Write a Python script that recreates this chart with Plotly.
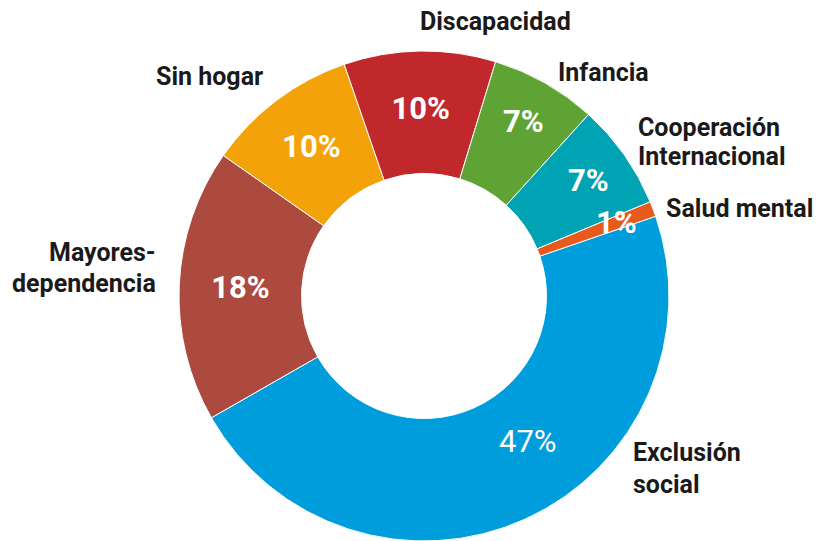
import math
import plotly.graph_objects as go

categories = ["Exclusión social", "Mayores-dependencia", "Sin hogar", "Discapacidad",
              "Infancia", "Cooperación Internacional", "Salud mental"]
values = [47, 18, 10, 10, 7, 7, 1]
colors = ["#009ddc", "#ad4a3f", "#f4a20a", "#c0282b", "#5fa334", "#00a3b3", "#e85a1b"]
bold = [False, True, True, True, True, True, True]

# outside label lines (text) and their pixel positions (screen coords)
label_lines = [["Exclusión", "social"], ["Mayores-", "dependencia"], ["Sin hogar"],
               ["Discapacidad"], ["Infancia"], ["Cooperación", "Internacional"],
               ["Salud mental"]]
label_x = [631, 158, 209, 495, 603, 636, 664]
label_y = [[452, 484], [253, 283], [76], [22], [73], [127, 156], [208]]
label_anchor = ["left", "right", "center", "center", "center", "left", "left"]

# slices whose percentage is drawn off the slice mid-point (angle shift deg, radius frac)
pct_shift = [-11, None, None, None, None, None, 0]
pct_radius = [0.73, None, None, None, None, None, 0.84]

W, H = 821, 541
OFF = 8  # page body margin offset
ROT = 71
total = sum(values)
texts = []
for v, b in zip(values, bold):
    s = f"{round(100 * v / total)}%"
    texts.append(f"<b>{s}</b>" if b else s)

pie_text = ["" if s is not None else t for s, t in zip(pct_shift, texts)]

dom_x = [171 / W, 661 / W]
dom_y = [1 - 533 / H, 1 - 43 / H]

fig = go.Figure(go.Pie(
    labels=categories, values=values, text=pie_text, textinfo="text",
    textposition="inside", insidetextorientation="horizontal",
    sort=False, direction="clockwise", rotation=ROT, hole=0.5,
    marker=dict(colors=colors, line=dict(color="white", width=1)),
    textfont=dict(family="Roboto", size=31, color="white"),
    domain=dict(x=dom_x, y=dom_y),
    showlegend=False, hoverinfo="label+percent",
))

cx = (dom_x[0] + dom_x[1]) / 2 * W
cy = (1 - (dom_y[0] + dom_y[1]) / 2) * H
R = (dom_x[1] - dom_x[0]) * W / 2
cum = 0
for v, sh, rf, t in zip(values, pct_shift, pct_radius, texts):
    mid = ROT + 360 * (cum + v / 2) / total
    cum += v
    if sh is not None:
        a = math.radians(mid + sh)
        px = cx + rf * R * math.sin(a)
        py = cy - rf * R * math.cos(a)
        fig.add_annotation(text=t, x=px / W, y=1 - py / H, xref="paper", yref="paper",
                           xanchor="center", yanchor="middle", showarrow=False,
                           font=dict(family="Roboto", size=31, color="white"))

for lines, x, ys, a in zip(label_lines, label_x, label_y, label_anchor):
    for t, y in zip(lines, ys):
        fig.add_annotation(text=f"<b>{t}</b>", x=(x - OFF) / W, y=1 - (y - OFF) / H,
                           xref="paper", yref="paper",
                           xanchor=a, yanchor="middle", align=a, showarrow=False,
                           font=dict(family="Roboto", size=25, color="#1a1a1a"))

fig.update_layout(width=W, height=H, margin=dict(l=0, r=0, t=0, b=0),
                  paper_bgcolor="white", plot_bgcolor="white",
                  uniformtext=dict(minsize=31, mode="show"))
fig.write_html("out.html")
